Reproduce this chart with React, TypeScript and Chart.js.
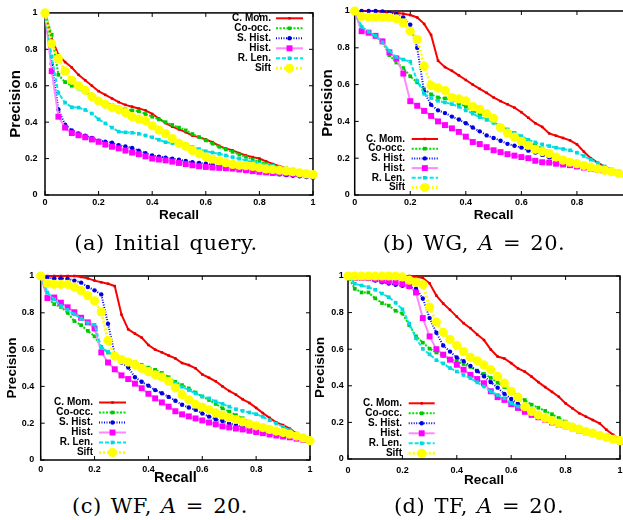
import React, { useEffect, useRef } from "react";
import { Chart, registerables } from "chart.js";

Chart.register(...registerables);

// ---------- data ----------
const recall = [
  0, 0.025, 0.05, 0.075, 0.1, 0.125, 0.15, 0.175, 0.2, 0.225,
  0.25, 0.275, 0.3, 0.325, 0.35, 0.375, 0.4, 0.425, 0.45, 0.475,
  0.5, 0.525, 0.55, 0.575, 0.6, 0.625, 0.65, 0.675, 0.7, 0.725,
  0.75, 0.775, 0.8, 0.825, 0.85, 0.875, 0.9, 0.925, 0.95, 0.975, 1,
];
const xTickValues = [0, 0.2, 0.4, 0.6, 0.8, 1];
const yTickValues = [0, 0.2, 0.4, 0.6, 0.8, 1];
const seriesLabels = ["C. Mom.", "Co-occ.", "S. Hist.", "Hist.", "R. Len.", "Sift"];

// (a) Initial query
const aCMom = [1,0.86,0.77,0.73,0.70, 0.66,0.63,0.60,0.57,0.55, 0.53,0.51,0.495,0.485,0.475, 0.465,0.445,0.42,0.395,0.375, 0.36,0.345,0.326,0.318,0.305, 0.29,0.27,0.255,0.245,0.23, 0.217,0.208,0.2,0.185,0.17, 0.158,0.145,0.138,0.13,0.118, 0.105];
const aCoocc = [1,0.88,0.66,0.62,0.60, 0.585,0.565,0.545,0.52,0.505, 0.495,0.48,0.47,0.465,0.46, 0.445,0.43,0.415,0.40,0.385, 0.37,0.355,0.335,0.318,0.30, 0.282,0.265,0.25,0.237,0.222, 0.21,0.195,0.182,0.172,0.163, 0.154,0.145,0.136,0.127,0.118, 0.11];
const aSHist = [1,0.72,0.47,0.386,0.355, 0.338,0.325,0.313,0.298,0.293, 0.287,0.274,0.266,0.258,0.243, 0.23,0.217,0.211,0.205,0.2, 0.194,0.187,0.18,0.176,0.172, 0.166,0.16,0.152,0.145,0.14, 0.136,0.131,0.127,0.122,0.118, 0.113,0.109,0.106,0.103,0.099, 0.095];
const aHist = [1,0.68,0.43,0.37,0.34, 0.328,0.317,0.305,0.292,0.277, 0.265,0.256,0.244,0.233,0.224, 0.212,0.2,0.195,0.19,0.183, 0.176,0.17,0.163,0.158,0.154, 0.151,0.149,0.147,0.145,0.14, 0.136,0.131,0.127,0.124,0.121, 0.12,0.118,0.116,0.114,0.111, 0.108];
const aRLen = [1,0.76,0.56,0.507,0.482, 0.48,0.467,0.447,0.416,0.393, 0.37,0.348,0.344,0.342,0.336, 0.327,0.317,0.303,0.29,0.285, 0.28,0.272,0.263,0.252,0.24, 0.233,0.226,0.217,0.208,0.199, 0.19,0.181,0.172,0.166,0.16, 0.152,0.145,0.138,0.132,0.124, 0.115];
const aSift = [1,0.83,0.75,0.68,0.63, 0.6,0.575,0.54,0.516,0.498, 0.48,0.468,0.452,0.43,0.417, 0.408,0.38,0.357,0.337,0.31, 0.283,0.268,0.245,0.226,0.21, 0.197,0.188,0.177,0.168,0.163, 0.161,0.157,0.15,0.143,0.14, 0.136,0.132,0.128,0.122,0.116, 0.112];

// (b) WG, A = 20
const bCMom = [1,1,1,1,0.995, 0.992,0.99,0.985,0.978,0.965, 0.93,0.87,0.73,0.695,0.675, 0.65,0.625,0.6,0.577,0.555, 0.53,0.51,0.493,0.475,0.45, 0.42,0.39,0.37,0.335,0.322, 0.31,0.297,0.275,0.235,0.2, 0.175,0.155,0.137,0.127,0.112, 0.1];
const bCoocc = [1,0.89,0.88,0.86,0.83, 0.76,0.72,0.69,0.645,0.612, 0.575,0.547,0.53,0.525,0.516, 0.498,0.48,0.457,0.44,0.413, 0.395,0.375,0.355,0.335,0.31, 0.29,0.27,0.253,0.234,0.215, 0.2,0.188,0.175,0.166,0.158, 0.146,0.137,0.128,0.118,0.11, 0.105];
const bSHist = [1,1,1,1,0.998, 0.99,0.983,0.965,0.925,0.8, 0.56,0.49,0.46,0.445,0.426, 0.41,0.39,0.367,0.346,0.324, 0.31,0.295,0.278,0.268,0.258, 0.241,0.231,0.218,0.205,0.193, 0.178,0.17,0.16,0.152,0.146, 0.137,0.129,0.118,0.112,0.106, 0.1];
const bHist = [1,0.89,0.882,0.865,0.835, 0.775,0.742,0.66,0.51,0.485, 0.457,0.43,0.4,0.38,0.362, 0.343,0.317,0.288,0.277,0.26, 0.243,0.233,0.222,0.214,0.206, 0.2,0.186,0.178,0.176,0.17, 0.166,0.162,0.155,0.149,0.143, 0.136,0.13,0.124,0.118,0.11, 0.103];
const bRLen = [1,0.915,0.888,0.865,0.83, 0.784,0.75,0.736,0.725,0.62, 0.55,0.527,0.512,0.503,0.494, 0.48,0.46,0.442,0.423,0.408, 0.392,0.375,0.356,0.338,0.32, 0.3,0.286,0.275,0.266,0.257, 0.25,0.243,0.23,0.212,0.192, 0.173,0.155,0.14,0.127,0.117, 0.108];
const bSift = [1,0.97,0.966,0.966,0.966, 0.966,0.958,0.935,0.89,0.845, 0.7,0.595,0.582,0.568,0.53, 0.522,0.512,0.48,0.466,0.442, 0.417,0.365,0.337,0.315,0.292, 0.27,0.248,0.236,0.225,0.206, 0.189,0.178,0.17,0.16,0.151, 0.142,0.134,0.127,0.118,0.11, 0.103];

// (c) WF, A = 20
const cCMom = [1,1,1,1,1, 1,0.995,0.987,0.975,0.966, 0.958,0.945,0.79,0.71,0.687, 0.665,0.625,0.6,0.585,0.568, 0.552,0.527,0.516,0.498,0.465, 0.447,0.428,0.4,0.375,0.355, 0.33,0.31,0.283,0.255,0.229, 0.204,0.19,0.17,0.144,0.126, 0.1];
const cCoocc = [1,0.88,0.847,0.832,0.8, 0.755,0.733,0.702,0.672,0.615, 0.584,0.565,0.552,0.54,0.532, 0.517,0.502,0.49,0.473,0.45, 0.425,0.407,0.389,0.367,0.345, 0.326,0.305,0.281,0.263,0.244, 0.227,0.208,0.193,0.18,0.168, 0.158,0.15,0.143,0.136,0.126, 0.108];
const cSHist = [1,0.99,0.987,0.987,0.985, 0.975,0.964,0.94,0.922,0.9, 0.74,0.575,0.53,0.503,0.45, 0.425,0.404,0.38,0.363,0.343, 0.322,0.3,0.285,0.273,0.253, 0.236,0.221,0.212,0.198,0.19, 0.183,0.177,0.17,0.162,0.153, 0.147,0.14,0.13,0.123,0.117, 0.108];
const cHist = [1,0.88,0.883,0.855,0.83, 0.803,0.773,0.748,0.715,0.585, 0.53,0.493,0.46,0.44,0.415, 0.39,0.36,0.335,0.313,0.29, 0.265,0.248,0.237,0.226,0.215, 0.204,0.194,0.183,0.177,0.171, 0.166,0.159,0.152,0.146,0.139, 0.133,0.128,0.123,0.116,0.11, 0.103];
const cRLen = [1,0.91,0.873,0.837,0.815, 0.792,0.768,0.746,0.735,0.61, 0.588,0.567,0.548,0.535,0.518, 0.503,0.488,0.471,0.453,0.434, 0.416,0.398,0.38,0.362,0.346, 0.335,0.318,0.305,0.29,0.276, 0.267,0.258,0.249,0.235,0.216, 0.198,0.18,0.162,0.144,0.13, 0.117];
const cSift = [1,0.96,0.955,0.955,0.955, 0.94,0.92,0.893,0.865,0.805, 0.65,0.565,0.545,0.532,0.518, 0.498,0.48,0.463,0.451,0.428, 0.392,0.355,0.327,0.303,0.288, 0.273,0.256,0.244,0.23,0.22, 0.207,0.195,0.186,0.176,0.166, 0.157,0.149,0.14,0.13,0.12, 0.105];

// (d) TF, A = 20
const dCMom = [1,1,1,1,1, 1,1,1,1,1, 0.995,0.99,0.96,0.893,0.85, 0.815,0.778,0.742,0.715,0.68, 0.65,0.598,0.56,0.549,0.524, 0.495,0.477,0.45,0.42,0.393, 0.367,0.34,0.304,0.277,0.25, 0.231,0.213,0.195,0.16,0.132, 0.105];
const dCoocc = [1,0.93,0.91,0.91,0.878, 0.852,0.838,0.81,0.795,0.732, 0.67,0.636,0.603,0.582,0.564, 0.546,0.534,0.519,0.503,0.483, 0.465,0.443,0.417,0.393,0.369, 0.347,0.322,0.297,0.28,0.263, 0.245,0.224,0.204,0.186,0.17, 0.157,0.145,0.13,0.118,0.108, 0.096];
const dSHist = [1,1,0.992,0.984,0.975, 0.966,0.959,0.952,0.947,0.939, 0.93,0.877,0.77,0.69,0.62, 0.587,0.555,0.535,0.509,0.48, 0.452,0.42,0.39,0.356,0.328, 0.301,0.279,0.26,0.243,0.222, 0.206,0.192,0.18,0.169,0.159, 0.147,0.136,0.127,0.118,0.108, 0.096];
const dHist = [1,0.99,0.99,0.99,0.983, 0.975,0.97,0.965,0.957,0.945, 0.91,0.77,0.67,0.6,0.57, 0.543,0.515,0.488,0.46,0.437, 0.414,0.37,0.338,0.323,0.3, 0.279,0.258,0.241,0.228,0.214, 0.2,0.188,0.179,0.168,0.156, 0.146,0.138,0.128,0.117,0.107, 0.096];
const dRLen = [1,0.958,0.948,0.939,0.925, 0.904,0.884,0.854,0.818,0.74, 0.66,0.602,0.572,0.54,0.522, 0.497,0.478,0.459,0.442,0.419, 0.396,0.369,0.35,0.332,0.304, 0.287,0.271,0.254,0.239,0.225, 0.213,0.201,0.189,0.177,0.165, 0.154,0.145,0.134,0.123,0.114, 0.101];
const dSift = [1,1,1,1,1, 1,1,1,0.995,0.977, 0.966,0.953,0.83,0.748,0.692, 0.653,0.62,0.587,0.555,0.537, 0.514,0.488,0.452,0.415,0.37, 0.338,0.286,0.259,0.24,0.223, 0.21,0.195,0.186,0.174,0.163, 0.15,0.141,0.128,0.118,0.108, 0.1];

// ---------- styles ----------
const FONT = "'Liberation Sans', Arial, Helvetica, sans-serif";

type SeriesStyle = { line: string; point: string; width: number; dash: number[]; shape: "rect" | "circle"; radius: number };
const SERIES_STYLE: SeriesStyle[] = [
  { line: "#ff0000", point: "#e00000", width: 2, dash: [], shape: "rect", radius: 1.8 },
  { line: "#00e000", point: "#00c800", width: 2, dash: [2, 1.5], shape: "rect", radius: 2.6 },
  { line: "#0000ff", point: "#0000e0", width: 2, dash: [1, 1.5], shape: "circle", radius: 2.2 },
  { line: "#ff88ff", point: "#ff00ff", width: 2, dash: [], shape: "rect", radius: 4.2 },
  { line: "#00e8e8", point: "#00d8e0", width: 2, dash: [4, 2], shape: "rect", radius: 2.6 },
  { line: "#ffff00", point: "#ffff00", width: 3, dash: [2, 2], shape: "circle", radius: 4.6 },
];

type PanelCfg = {
  left: number; top: number; width: number; height: number;
  area: { l: number; t: number; r: number; b: number };
  yTickPad: number; xTickPad: number;
  yTitle: { size: number; cx: number };
  xTitle: { size: number; cy: number };
  legend: { textRight: number; x1: number; x2: number; y0: number; dy: number };
  series: number[][];
};

const PANELS: PanelCfg[] = [
  {
    left: 0, top: 0, width: 330, height: 230,
    area: { l: 45, t: 11, r: 313, b: 195 },
    yTickPad: 7.5, xTickPad: 2.6,
    yTitle: { size: 15, cx: 16 }, xTitle: { size: 13.5, cy: 215 },
    legend: { textRight: 271, x1: 276, x2: 303, y0: 18.3, dy: 10 },
    series: [aCMom, aCoocc, aSHist, aHist, aRLen, aSift],
  },
  {
    left: 312, top: 0, width: 330, height: 230,
    area: { l: 42.7, t: 11, r: 320.5, b: 195 },
    yTickPad: 5, xTickPad: 2.6,
    yTitle: { size: 15, cx: 16 }, xTitle: { size: 13.5, cy: 215 },
    legend: { textRight: 93, x1: 99.7, x2: 126, y0: 139, dy: 9.7 },
    series: [bCMom, bCoocc, bSHist, bHist, bRLen, bSift],
  },
  {
    left: 0, top: 260, width: 330, height: 230,
    area: { l: 40.7, t: 16, r: 310, b: 200 },
    yTickPad: 6.4, xTickPad: 4.6,
    yTitle: { size: 13.5, cx: 12.7 }, xTitle: { size: 14.5, cy: 218 },
    legend: { textRight: 93, x1: 99, x2: 126, y0: 142.5, dy: 10 },
    series: [cCMom, cCoocc, cSHist, cHist, cRLen, cSift],
  },
  {
    left: 312, top: 260, width: 330, height: 230,
    area: { l: 36, t: 16, r: 308, b: 199 },
    yTickPad: 4.3, xTickPad: 6.3,
    yTitle: { size: 13.5, cx: 8 }, xTitle: { size: 13.5, cy: 220 },
    legend: { textRight: 90, x1: 96.7, x2: 122.7, y0: 143.3, dy: 10 },
    series: [dCMom, dCoocc, dSHist, dHist, dRLen, dSift],
  },
];

const fmt = (v: number) => (v === 0 ? "0" : v === 1 ? "1" : Number(v).toFixed(1));

function drawMarker(ctx: CanvasRenderingContext2D, shape: string, x: number, y: number, r: number, color: string) {
  ctx.fillStyle = color;
  ctx.beginPath();
  if (shape === "circle") {
    ctx.arc(x, y, r, 0, Math.PI * 2);
  } else {
    const s = Math.SQRT1_2 * r;
    ctx.rect(x - s, y - s, 2 * s, 2 * s);
  }
  ctx.fill();
}

const framePlugin = {
  id: "gnuFrame",
  beforeDatasetsDraw(chart: any) {
    const { ctx, chartArea: a, scales } = chart;
    ctx.save();
    ctx.setLineDash([]);
    ctx.strokeStyle = "#000";
    ctx.lineWidth = 1.5;
    ctx.strokeRect(a.left, a.top, a.right - a.left, a.bottom - a.top);
    const tl = 4;
    ctx.lineWidth = 1;
    ctx.beginPath();
    for (const v of xTickValues) {
      const x = scales.x.getPixelForValue(v);
      ctx.moveTo(x, a.bottom); ctx.lineTo(x, a.bottom - tl);
      ctx.moveTo(x, a.top); ctx.lineTo(x, a.top + tl);
    }
    for (const v of yTickValues) {
      const y = scales.y.getPixelForValue(v);
      ctx.moveTo(a.left, y); ctx.lineTo(a.left + tl, y);
      ctx.moveTo(a.right, y); ctx.lineTo(a.right - tl, y);
    }
    ctx.stroke();
    ctx.restore();
  },
};

const legendPlugin = {
  id: "gnuLegend",
  afterDatasetsDraw(chart: any, _args: any, opts: any) {
    const { ctx } = chart;
    ctx.save();
    chart.data.datasets.forEach((ds: any, i: number) => {
      const st = SERIES_STYLE[i];
      const y = opts.y0 + i * opts.dy;
      ctx.font = `bold 10px ${FONT}`;
      ctx.fillStyle = "#000";
      ctx.textAlign = "right";
      ctx.textBaseline = "middle";
      ctx.fillText(ds.label, opts.textRight, y);
      ctx.strokeStyle = st.line;
      ctx.lineWidth = st.width;
      ctx.setLineDash(st.dash);
      ctx.beginPath();
      ctx.moveTo(opts.x1, y);
      ctx.lineTo(opts.x2, y);
      ctx.stroke();
      ctx.setLineDash([]);
      drawMarker(ctx, st.shape, (opts.x1 + opts.x2) / 2, y, st.radius, st.point);
    });
    ctx.restore();
  },
};

function Panel({ cfg }: { cfg: PanelCfg }) {
  const ref = useRef<HTMLCanvasElement>(null);
  useEffect(() => {
    const a = cfg.area;
    const tickFont = { family: FONT, weight: "bold" as const, size: 9 };
    const chart = new Chart(ref.current as HTMLCanvasElement, {
      type: "line",
      data: {
        datasets: cfg.series.map((vals, i) => {
          const s = SERIES_STYLE[i];
          return {
            label: seriesLabels[i],
            data: recall.map((r, j) => ({ x: r, y: vals[j] })),
            borderColor: s.line,
            backgroundColor: s.point,
            borderWidth: s.width,
            borderDash: s.dash,
            pointStyle: s.shape,
            pointRadius: s.radius,
            pointHoverRadius: s.radius,
            pointBackgroundColor: s.point,
            pointBorderColor: s.point,
            pointBorderWidth: 0,
            tension: 0,
            fill: false,
            clip: false,
            order: 5 - i,
          } as any;
        }),
      },
      options: {
        responsive: false,
        animation: false,
        events: [],
        layout: { padding: { left: 0, top: a.t, right: cfg.width - a.r, bottom: 0 } },
        plugins: {
          legend: { display: false },
          tooltip: { enabled: false },
          gnuLegend: cfg.legend,
        } as any,
        scales: {
          x: {
            type: "linear",
            min: 0,
            max: 1,
            afterBuildTicks: (s: any) => { s.ticks = xTickValues.map((v) => ({ value: v })); },
            afterFit: (s: any) => { s.height = cfg.height - a.b; },
            ticks: { callback: (v: any) => fmt(Number(v)), font: tickFont, color: "#000", padding: cfg.xTickPad, maxRotation: 0, autoSkip: false },
            grid: { display: false, drawTicks: false },
            border: { display: false },
            title: {
              display: true, text: "Recall", color: "#000",
              font: { family: FONT, weight: "bold", size: cfg.xTitle.size, lineHeight: 1 },
              padding: { top: 0, bottom: cfg.height - cfg.xTitle.cy - cfg.xTitle.size / 2 },
            },
          },
          y: {
            type: "linear",
            min: 0,
            max: 1,
            afterBuildTicks: (s: any) => { s.ticks = yTickValues.map((v) => ({ value: v })); },
            afterFit: (s: any) => { s.width = a.l; },
            ticks: { callback: (v: any) => fmt(Number(v)), font: tickFont, color: "#000", padding: cfg.yTickPad, autoSkip: false },
            grid: { display: false, drawTicks: false },
            border: { display: false },
            title: {
              display: true, text: "Precision", color: "#000",
              font: { family: FONT, weight: "bold", size: cfg.yTitle.size, lineHeight: 1 },
              padding: { top: cfg.yTitle.cx - cfg.yTitle.size / 2, bottom: 0 },
            },
          },
        } as any,
      },
      plugins: [framePlugin, legendPlugin],
    });
    return () => chart.destroy();
  }, []);
  return (
    <canvas
      ref={ref}
      width={cfg.width}
      height={cfg.height}
      style={{ position: "absolute", left: cfg.left, top: cfg.top, width: cfg.width, height: cfg.height }}
    />
  );
}

const CAPTION_FONT = "'DejaVu Serif', 'Liberation Serif', serif";

function Caption({ cx, cy, size, children }: { cx: number; cy: number; size: number; children: any }) {
  return (
    <div
      style={{
        position: "absolute", left: cx - 150, top: cy - 14, width: 300, height: 28,
        lineHeight: "28px", textAlign: "center", fontFamily: CAPTION_FONT, fontSize: size, color: "#000",
        whiteSpace: "pre", letterSpacing: "0.5px", wordSpacing: "2px",
      }}
    >
      {children}
    </div>
  );
}

export default function App() {
  return (
    <div style={{ position: "fixed", left: 0, top: 0, width: 623, height: 520, overflow: "hidden", background: "#fff" }}>
      {PANELS.map((p, i) => (
        <Panel key={i} cfg={p} />
      ))}
      <Caption cx={166} cy={242.5} size={21}>(a) Initial query.</Caption>
      <Caption cx={474} cy={242.5} size={21}>(b) WG, <i>A</i> = 20.</Caption>
      <Caption cx={160} cy={506} size={21}>(c) WF, <i>A</i> = 20.</Caption>
      <Caption cx={479} cy={506} size={21}>(d) TF, <i>A</i> = 20.</Caption>
    </div>
  );
}
